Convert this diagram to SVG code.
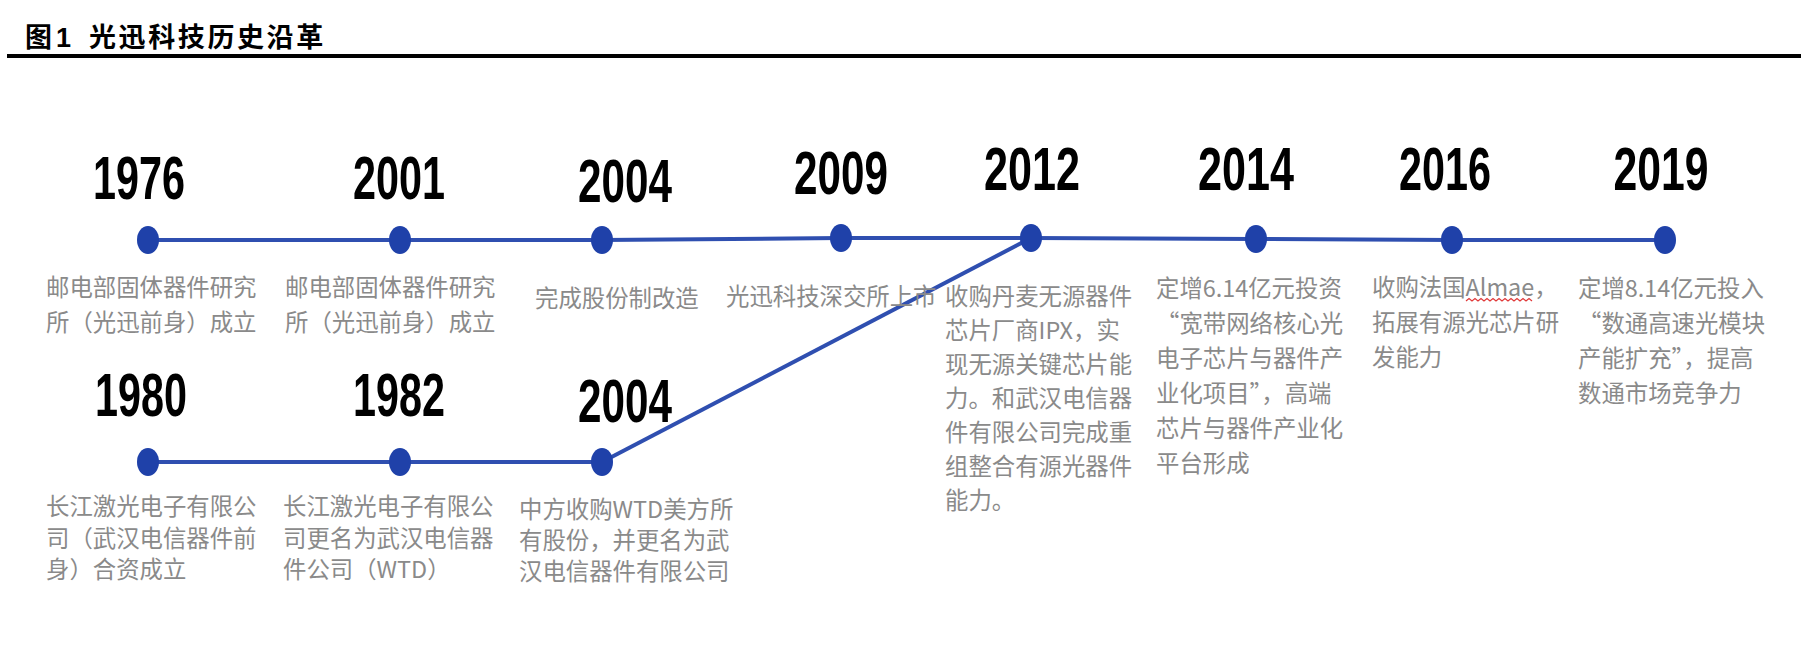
<svg xmlns="http://www.w3.org/2000/svg" width="1812" height="668" viewBox="0 0 1812 668">
<style>
.title{font-family:"Noto Sans CJK SC","Liberation Sans",sans-serif;font-weight:700;font-size:27px;fill:#000}
.yr{font-family:"Liberation Sans Narrow","Liberation Sans",Arial,sans-serif;font-weight:700;font-size:61px;fill:#000;text-anchor:middle}
.d{font-family:"Noto Sans CJK SC","Liberation Sans",sans-serif;font-size:23.4px;fill:#8a8a8a}
.ln{fill:none;stroke:#2f4fb0;stroke-width:4;stroke-linejoin:round}
.dot{fill:#1f41a9}
</style>
<rect width="1812" height="668" fill="#fff"/>
<g id="title">
<text class="title" x="25" y="47">图<tspan x="56" font-family="Liberation Sans,sans-serif">1</tspan><tspan x="89" letter-spacing="2.6">光迅科技历史沿革</tspan></text>
<line x1="7" y1="56" x2="1801" y2="56" stroke="#000" stroke-width="4"/>
</g>
<g id="connectors">
<polyline class="ln" points="148,240 400,240 602,240 841,238 1031,238 1256,239 1452,240 1665,240"/>
<polyline class="ln" points="148,462 400,462 602,462"/>
<line class="ln" x1="602" y1="462" x2="1031" y2="238" stroke-width="3.5"/>
</g>
<g id="n1976">
<text class="yr" x="139" y="199" textLength="92" lengthAdjust="spacingAndGlyphs">1976</text>
<ellipse class="dot" cx="148" cy="240" rx="11" ry="14"/>
<text class="d" x="46" y="296">邮电部固体器件研究</text>
<text class="d" x="46" y="331">所（光迅前身）成立</text>
</g>
<g id="n2001">
<text class="yr" x="399" y="199" textLength="92" lengthAdjust="spacingAndGlyphs">2001</text>
<ellipse class="dot" cx="400" cy="240" rx="11" ry="14"/>
<text class="d" x="285" y="296">邮电部固体器件研究</text>
<text class="d" x="285" y="331">所（光迅前身）成立</text>
</g>
<g id="n2004a">
<text class="yr" x="625" y="202" textLength="94" lengthAdjust="spacingAndGlyphs">2004</text>
<ellipse class="dot" cx="602" cy="240" rx="11" ry="14"/>
<text class="d" x="535" y="307">完成股份制改造</text>
</g>
<g id="n2009">
<text class="yr" x="841" y="194" textLength="94" lengthAdjust="spacingAndGlyphs">2009</text>
<ellipse class="dot" cx="841" cy="238" rx="11" ry="14"/>
<text class="d" x="726" y="305">光迅科技深交所上市</text>
</g>
<g id="n2012">
<text class="yr" x="1032" y="190" textLength="96" lengthAdjust="spacingAndGlyphs">2012</text>
<ellipse class="dot" cx="1031" cy="238" rx="11" ry="14"/>
<text class="d" x="945" y="305">收购丹麦无源器件</text>
<text class="d" x="945" y="339">芯片厂商IPX，实</text>
<text class="d" x="945" y="373">现无源关键芯片能</text>
<text class="d" x="945" y="407">力。和武汉电信器</text>
<text class="d" x="945" y="441">件有限公司完成重</text>
<text class="d" x="945" y="475">组整合有源光器件</text>
<text class="d" x="945" y="509">能力。</text>
</g>
<g id="n2014">
<text class="yr" x="1246" y="190" textLength="96" lengthAdjust="spacingAndGlyphs">2014</text>
<ellipse class="dot" cx="1256" cy="239" rx="11" ry="14"/>
<text class="d" x="1156" y="297">定增6.14亿元投资</text>
<text class="d" x="1156" y="332">“宽带网络核心光</text>
<text class="d" x="1156" y="367">电子芯片与器件产</text>
<text class="d" x="1156" y="402">业化项目”，高端</text>
<text class="d" x="1156" y="437">芯片与器件产业化</text>
<text class="d" x="1156" y="472">平台形成</text>
</g>
<g id="n2016">
<text class="yr" x="1445" y="190" textLength="92" lengthAdjust="spacingAndGlyphs">2016</text>
<ellipse class="dot" cx="1452" cy="240" rx="11" ry="14"/>
<text class="d" x="1372" y="296">收购法国Almae，</text>
<path d="M1466,301 l3,-2.5 l3,2.5 l3,-2.5 l3,2.5 l3,-2.5 l3,2.5 l3,-2.5 l3,2.5 l3,-2.5 l3,2.5 l3,-2.5 l3,2.5 l3,-2.5 l3,2.5 l3,-2.5 l3,2.5 l3,-2.5 l3,2.5 l3,-2.5 l3,2.5 l3,-2.5 l3,2.5" fill="none" stroke="#e03838" stroke-width="1.2"/>
<text class="d" x="1372" y="331">拓展有源光芯片研</text>
<text class="d" x="1372" y="366">发能力</text>
</g>
<g id="n2019">
<text class="yr" x="1661" y="190" textLength="95" lengthAdjust="spacingAndGlyphs">2019</text>
<ellipse class="dot" cx="1665" cy="240" rx="11" ry="14"/>
<text class="d" x="1578" y="297">定增8.14亿元投入</text>
<text class="d" x="1578" y="332">“数通高速光模块</text>
<text class="d" x="1578" y="367">产能扩充”，提高</text>
<text class="d" x="1578" y="402">数通市场竞争力</text>
</g>
<g id="n1980">
<text class="yr" x="141" y="416" textLength="92" lengthAdjust="spacingAndGlyphs">1980</text>
<ellipse class="dot" cx="148" cy="462" rx="11" ry="14"/>
<text class="d" x="46" y="515">长江激光电子有限公</text>
<text class="d" x="46" y="547">司（武汉电信器件前</text>
<text class="d" x="46" y="578">身）合资成立</text>
</g>
<g id="n1982">
<text class="yr" x="399" y="416" textLength="92" lengthAdjust="spacingAndGlyphs">1982</text>
<ellipse class="dot" cx="400" cy="462" rx="11" ry="14"/>
<text class="d" x="283" y="515">长江激光电子有限公</text>
<text class="d" x="283" y="547">司更名为武汉电信器</text>
<text class="d" x="283" y="578">件公司（WTD）</text>
</g>
<g id="n2004b">
<text class="yr" x="625" y="422" textLength="94" lengthAdjust="spacingAndGlyphs">2004</text>
<ellipse class="dot" cx="602" cy="462" rx="11" ry="14"/>
<text class="d" x="519" y="518">中方收购WTD美方所</text>
<text class="d" x="519" y="549">有股份，并更名为武</text>
<text class="d" x="519" y="580">汉电信器件有限公司</text>
</g>
</svg>
